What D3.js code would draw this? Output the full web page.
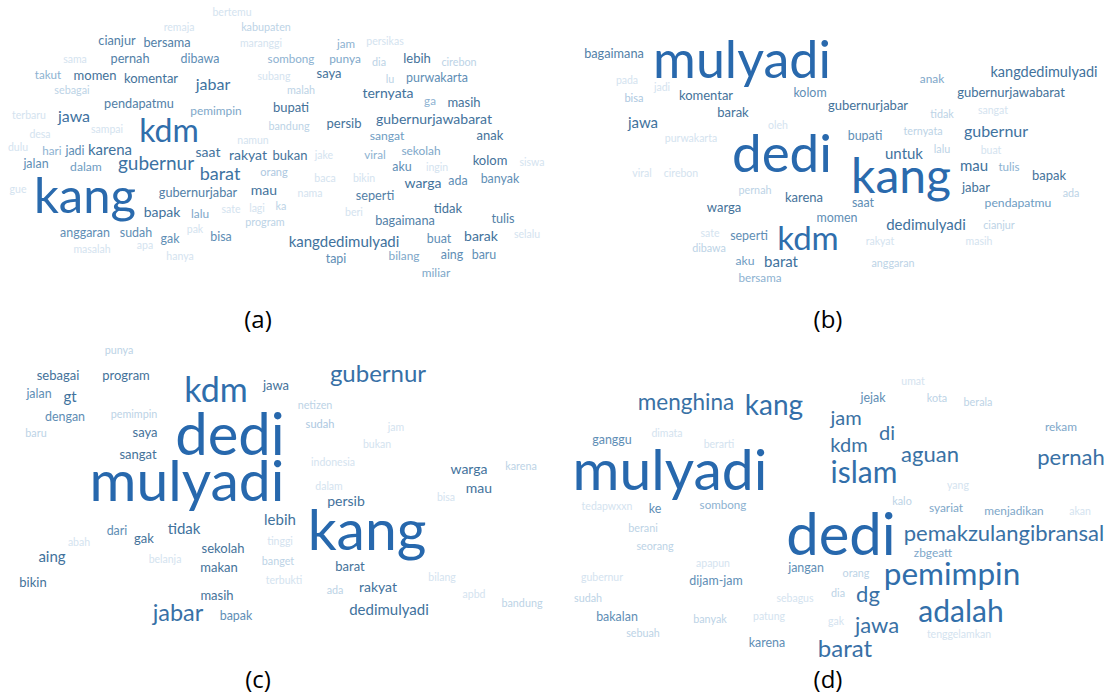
<!DOCTYPE html>
<html>
<head>
<meta charset="utf-8">
<script src="https://cdn.jsdelivr.net/npm/d3@7"></script>
<style>
  html, body { margin: 0; padding: 0; background: #ffffff; }
  svg { display: block; }
</style>
</head>
<body>
<svg id="chart" width="1111" height="696"></svg>
<script>
// ---------------- DATA ----------------
const panelLabels = ["(a)", "(b)", "(c)", "(d)"];

// Panel (a)
const wordsA = ["bertemu","remaja","kabupaten","cianjur","bersama","maranggi","sama","pernah","dibawa","sombong",
  "takut","momen","komentar","jabar","subang","sebagai","pendapatmu","pemimpin","bupati","terbaru",
  "jawa","kdm","sampai","bandung","desa","namun","dulu","hari","jadi","karena",
  "saat","rakyat","bukan","jake","viral","sekolah","kolom","siswa","jalan","dalam",
  "gubernur","barat","orang","aku","ingin","baca","bikin","warga","ada","banyak",
  "gue","kang","gubernurjabar","mau","nama","seperti","sate","lagi","ka","bapak",
  "lalu","tidak","beri","program","bagaimana","tulis","anggaran","sudah","pak","gak",
  "bisa","kangdedimulyadi","buat","barak","selalu","masalah","apa","tapi","bilang","aing",
  "baru","hanya","miliar","jam","persikas","punya","dia","lebih","cirebon","saya",
  "lu","purwakarta","malah","ternyata","ga","masih","persib","gubernurjawabarat","sangat","anak"];
const weightsA = [1,1,2,9,9,1,1,9,8,5,
  5,10,10,16,1,2,9,6,10,1,
  16,48,1,2,1,1,1,5,8,14,
  12,12,10,1,5,6,10,1,8,7,
  22,20,3,8,1,1,1,12,8,8,
  1,82,9,12,1,9,1,1,2,12,
  6,10,1,2,9,9,8,8,1,8,
  8,14,8,12,1,1,1,8,6,8,
  8,1,6,5,1,6,2,10,2,10,
  2,8,2,12,5,10,10,12,7,10];
const xA = [232,179,266,117,167,261,75,130,200,291,
  48,95,151,213,274,72,139,216,291,29,
  74,169,107,289,40,253,18,52,75,110,
  208,248,290,324,375,421,490,532,36,86,
  156,220,274,402,437,325,364,423,458,500,
  18,85,198,264,310,375,231,257,281,162,
  200,448,354,265,405,503,85,136,195,170,
  221,344,439,481,527,92,145,336,404,452,
  484,180,436,346,385,345,379,417,459,329,
  390,437,301,388,430,464,344,434,387,490];
const yA = [16,31,31,45,47,47,63,63,63,63,
  79,80,83,90,80,94,108,115,112,119,
  122,142,133,130,138,144,151,155,155,155,
  157,160,160,159,159,155,165,166,168,171,
  170,180,176,171,171,182,182,188,185,183,
  193,213,197,195,197,200,213,212,210,217,
  218,213,216,226,225,223,237,237,233,243,
  241,247,243,241,238,253,249,263,260,259,
  259,260,277,48,45,63,66,63,66,78,
  83,82,94,98,105,107,128,124,140,140];

// Panel (b)
const wordsB = ["bagaimana","mulyadi","pada","jadi","bisa","komentar","kolom","barak","gubernurjabar","jawa",
  "oleh","purwakarta","dedi","viral","cirebon","pernah","karena","warga","momen","sate",
  "seperti","kdm","dibawa","aku","barat","bersama","kangdedimulyadi","anak","gubernurjawabarat","tidak",
  "sangat","bupati","ternyata","gubernur","untuk","lalu","buat","kang","mau","tulis",
  "bapak","jabar","ada","saat","pendapatmu","dedimulyadi","cianjur","rakyat","masih","anggaran"];
const weightsB = [9,88,1,1,3,10,8,10,10,14,
  1,1,90,1,1,2,10,10,8,1,
  8,50,2,7,14,5,13,6,10,2,
  1,8,2,16,14,2,1,80,14,5,
  10,10,2,8,7,14,2,1,1,2];
const xB = [59,187,72,107,79,151,255,178,313,88,
  223,136,227,87,126,200,249,169,282,155,
  194,253,154,190,226,205,489,377,456,387,
  438,310,368,441,349,387,436,346,419,454,
  494,421,516,308,463,371,444,325,424,338];
const yB = [58,78,84,91,102,100,97,117,110,128,
  129,142,172,177,177,194,202,212,222,237,
  240,250,252,265,267,282,77,83,97,118,
  114,140,135,137,159,153,154,193,171,171,
  180,192,197,207,207,230,229,245,245,267];

// Panel (c)
const wordsC = ["punya","sebagai","program","kdm","jawa","jalan","gt","dengan","pemimpin","baru",
  "saya","sangat","dedi","mulyadi","netizen","sudah","jam","bukan","indonesia","gubernur",
  "warga","karena","dalam","bisa","mau","persib","lebih","kang","tinggi","banget",
  "terbukti","barat","bilang","ada","rakyat","apbd","bandung","dedimulyadi","dari","tidak",
  "abah","gak","aing","sekolah","belanja","makan","bikin","masih","jabar","bapak"];
const weightsC = [2,10,10,52,10,8,14,8,2,2,
  10,10,100,98,2,3,1,1,1,32,
  12,2,1,1,12,12,14,98,1,2,
  1,10,1,2,12,1,2,14,8,14,
  1,10,14,10,1,10,10,10,31,8];
const xC = [119,58,126,216,276,39,70,65,134,36,
  145,138,230,187,315,320,396,377,333,378,
  469,521,329,446,479,346,280,367,280,278,
  284,350,442,335,378,474,522,389,117,184,
  79,144,52,223,165,219,33,217,178,236];
const yC = [14,40,40,62,50,58,62,81,78,97,
  97,119,115,161,69,88,91,108,126,42,
  134,130,150,161,153,166,185,210,205,225,
  244,231,241,254,252,258,267,275,195,194,
  206,203,222,213,223,232,247,260,281,280];

// Panel (d)
const wordsD = ["menghina","kang","umat","jejak","kota","berala","jam","di","rekam","kdm",
  "aguan","pernah","islam","ganggu","dimata","berarti","mulyadi","yang","kalo","syariat",
  "menjadikan","akan","tedapwxxn","ke","sombong","berani","seorang","dedi","pemakzulangibransal","zbgeatt",
  "apapun","jangan","gubernur","dijam-jam","orang","pemimpin","sudah","sebagus","dia","dg",
  "adalah","bakalan","banyak","patung","gak","jawa","tenggelamkan","sebuah","karena","barat"];
const weightsD = [29,40,1,8,2,2,24,24,6,24,
  28,28,44,8,1,1,98,1,2,6,
  6,1,1,8,5,2,2,100,28,6,
  1,8,1,8,2,47,2,1,2,28,
  44,8,2,1,1,28,1,2,8,32];
const xD = [131,219,358,318,382,423,291,332,506,294,
  375,516,309,57,112,164,115,403,347,391,
  459,525,52,100,168,88,100,286,449,378,
  158,251,47,161,301,397,33,240,283,313,
  406,62,155,214,281,322,404,88,212,290];
const yD = [70,75,45,62,62,66,85,100,91,112,
  122,125,143,104,97,108,150,149,165,172,
  175,175,170,173,169,192,210,215,201,217,
  227,232,241,245,237,245,262,262,257,262,
  282,281,283,280,285,293,298,297,307,317];

// ---------------- DRAWING ----------------
const svg = d3.select("#chart");
const panelW = 555, panelH = 348;

const panels = [
  {words: wordsA, weights: weightsA, xs: xA, ys: yA, col: 0, row: 0, clipW: 545},
  {words: wordsB, weights: weightsB, xs: xB, ys: yB, col: 1, row: 0, clipW: 556},
  {words: wordsC, weights: weightsC, xs: xC, ys: yC, col: 0, row: 1, clipW: 545},
  {words: wordsD, weights: weightsD, xs: xD, ys: yD, col: 1, row: 1, clipW: 556}
];

// outer placement of panels
const colScale = d3.scaleBand().domain([0, 1]).range([0, 1110]).paddingInner(0);
const rowScale = d3.scaleOrdinal().domain([0, 1]).range([0, 340]);

// size & color encodings from word weight
const sizeScale = d3.scaleLinear().domain([1, 10, 100]).range([10.5, 13, 58]);
const colorScale = d3.scaleLinear()
  .domain([1, 2, 4, 7, 10, 20, 50, 100])
  .range(["#d4e3ef", "#bcd3e6", "#9dbdd8", "#6e9cc2", "#44729a", "#3d72a2", "#2f6eac", "#2768ad"])
  .interpolate(d3.interpolateRgb)
  .clamp(true);

panels.forEach((p, i) => {
  const ox = colScale(p.col), oy = rowScale(p.row);
  const x = d3.scaleLinear().domain([0, panelW]).range([ox, ox + panelW]);
  const y = d3.scaleLinear().domain([0, panelH]).range([oy, oy + panelH]);

  const clipId = "clip" + i;
  svg.append("clipPath").attr("id", clipId)
    .append("rect").attr("x", x(0)).attr("y", y(0)).attr("width", p.clipW).attr("height", panelH);

  const data = p.words.map((w, k) => ({text: w, weight: p.weights[k], x: p.xs[k], y: p.ys[k]}));
  // draw light words first so stronger words sit on top
  data.sort((a, b) => a.weight - b.weight);

  const g = svg.append("g").attr("clip-path", `url(#${clipId})`);
  g.selectAll("text").data(data).join("text")
    .attr("x", d => x(d.x))
    .attr("y", d => y(d.y))
    .attr("text-anchor", "middle")
    .style("font-family", "Lato, 'Open Sans', sans-serif")
    .style("font-size", d => sizeScale(d.weight) + "px")
    .style("fill", d => colorScale(d.weight))
    .text(d => d.text);

  svg.append("text")
    .attr("x", x(p.col === 0 ? 258 : 273))
    .attr("y", y(p.row === 0 ? 328 : 348))
    .attr("text-anchor", "middle")
    .style("font-family", "'Open Sans', 'Liberation Sans', sans-serif")
    .style("font-size", "24px")
    .style("fill", "#000")
    .text(panelLabels[i]);
});
</script>
</body>
</html>
